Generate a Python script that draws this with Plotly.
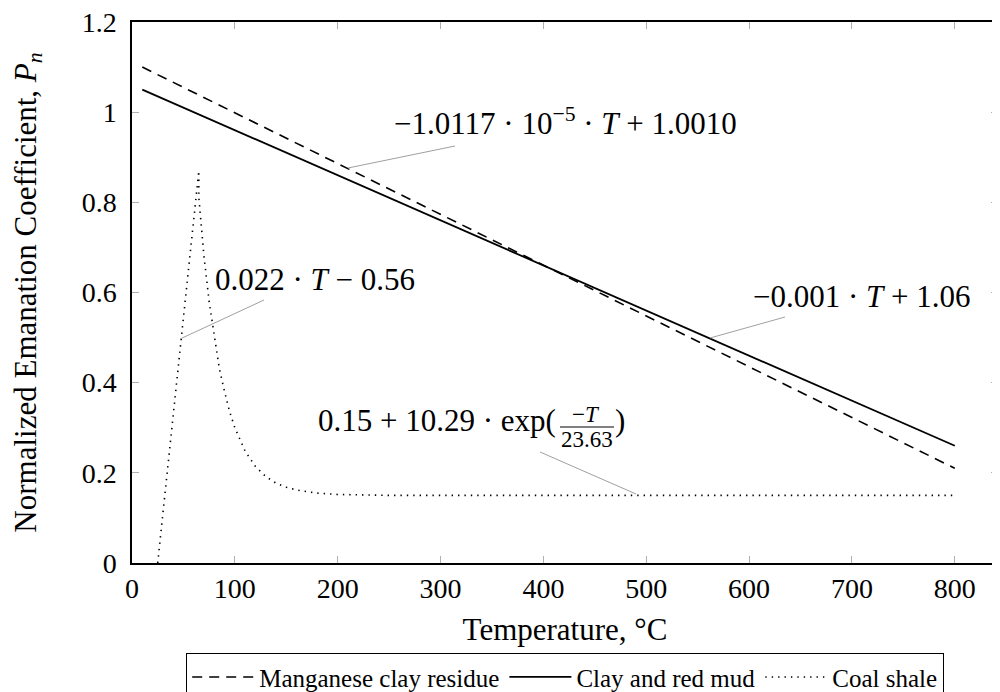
import plotly.graph_objects as go

# ---------------- data ----------------
manganese_T = [10, 800]
manganese_P = [1.10, 0.21]

claymud_T = [10, 800]
claymud_P = [1.05, 0.26]

coal_T = [25, 65, 65, 70, 75, 80, 85, 90, 95, 100, 110, 120, 130, 140, 150,
          160, 180, 200, 250, 300, 400, 500, 600, 700, 800]
coal_P = [0.0, 0.87, 0.81, 0.68, 0.58, 0.50, 0.43, 0.38, 0.335, 0.30, 0.248,
          0.214, 0.192, 0.177, 0.168, 0.162, 0.155, 0.152, 0.150, 0.150,
          0.150, 0.150, 0.150, 0.150, 0.150]

x_ticks = [0, 100, 200, 300, 400, 500, 600, 700, 800]
y_ticks = [0, 0.2, 0.4, 0.6, 0.8, 1.0, 1.2]
y_tick_labels = ["0", "0.2", "0.4", "0.6", "0.8", "1", "1.2"]

series_names = ["Manganese clay residue", "Clay and red mud", "Coal shale"]

# ---------------- layout constants ----------------
OFF = 8                      # default page margin of the html body
W, H = 992, 700              # figure size
ML, MR, MT, MB = 124, 2, 14, 145
XMAX, YMAX = 842, 1.2
FONT = "Liberation Serif"

PLOT_L = OFF + ML
PLOT_B = OFF + H - MB
PLOT_W = W - ML - MR
PLOT_H = H - MT - MB


def px_x(px):
    """page pixel -> data x"""
    return (px - PLOT_L) / PLOT_W * XMAX


def px_y(py):
    """page pixel -> data y"""
    return (PLOT_B - py) / PLOT_H * YMAX


fig = go.Figure()
fig.add_trace(go.Scatter(x=manganese_T, y=manganese_P, mode="lines",
                         name=series_names[0],
                         line=dict(color="black", width=1.6, dash="10px,7px")))
fig.add_trace(go.Scatter(x=claymud_T, y=claymud_P, mode="lines",
                         name=series_names[1],
                         line=dict(color="black", width=1.8)))
fig.add_trace(go.Scatter(x=coal_T, y=coal_P, mode="lines",
                         name=series_names[2],
                         line=dict(color="black", width=1.6, dash="1.4px,5px")))

ANN = 31
texts = [
    ("\u22121.0117 · 10<sup>\u22125</sup> · <i>T</i> + 1.0010", 565, 121),
    ("0.022 · <i>T</i> \u2212 0.56", 315, 279),
    ("\u22120.001 · <i>T</i> + 1.06", 862, 296),
]
for t, px, py in texts:
    fig.add_annotation(x=px_x(px), y=px_y(py), text=t, showarrow=False,
                       xanchor="center", yanchor="middle",
                       font=dict(family=FONT, size=ANN, color="black"))

# exp annotation with a built fraction
fig.add_annotation(x=px_x(558), y=px_y(420), text="0.15 + 10.29 · exp(",
                   showarrow=False, xanchor="right", yanchor="middle",
                   font=dict(family=FONT, size=ANN, color="black"))
fig.add_annotation(x=px_x(586), y=px_y(414), text="\u2212<i>T</i>", showarrow=False,
                   xanchor="center", yanchor="middle",
                   font=dict(family=FONT, size=23, color="black"))
fig.add_annotation(x=px_x(587), y=px_y(439), text="23.63", showarrow=False,
                   xanchor="center", yanchor="middle",
                   font=dict(family=FONT, size=23, color="black"))
fig.add_annotation(x=px_x(613), y=px_y(420), text=")", showarrow=False,
                   xanchor="left", yanchor="middle",
                   font=dict(family=FONT, size=ANN, color="black"))
fig.add_shape(type="line", x0=px_x(560), x1=px_x(614), y0=px_y(427), y1=px_y(427),
              line=dict(color="black", width=1))

# pin lines
pins = [((348, 168), (455, 146)), ((180, 339), (264, 300)),
        ((710, 338), (785, 317)), ((540, 452), (636, 494))]
for (a, b) in pins:
    fig.add_shape(type="line", x0=px_x(a[0]), y0=px_y(a[1]), x1=px_x(b[0]), y1=px_y(b[1]),
                  line=dict(color="#a0a0a0", width=1))

axis_common = dict(showline=True, linecolor="black", linewidth=1.5, mirror="allticks",
                   ticks="inside", ticklen=7, tickcolor="#b0b0b0", tickwidth=1,
                   showgrid=False, zeroline=False, automargin=False,
                   ticklabeloverflow="allow",
                   tickfont=dict(family=FONT, size=28, color="black"))

fig.update_layout(
    width=W, height=H,
    margin=dict(l=ML, r=MR, t=MT, b=MB),
    paper_bgcolor="white", plot_bgcolor="white",
    font=dict(family=FONT, color="black"),
    xaxis=dict(range=[0, XMAX], tickvals=x_ticks, ticktext=[str(v) for v in x_ticks],
               title=dict(text="Temperature, °C", font=dict(family=FONT, size=31, color="black"),
                          standoff=15),
               **axis_common),
    yaxis=dict(range=[0, YMAX], tickvals=y_ticks, ticktext=y_tick_labels,
               title=dict(text="Normalized Emanation Coefficient, <i>P<sub>n</sub></i>",
                          font=dict(family=FONT, size=31, color="black"), standoff=36),
               ticklabelstandoff=8,
               **axis_common),
    showlegend=True,
    legend=dict(orientation="h", x=0.5, xanchor="center", y=-(653 - PLOT_B) / PLOT_H,
                yanchor="top",
                bordercolor="black", borderwidth=1.2, bgcolor="white",
                font=dict(family=FONT, size=25, color="black"),
                itemwidth=62, tracegroupgap=0),
)

fig.write_html("out.html")
